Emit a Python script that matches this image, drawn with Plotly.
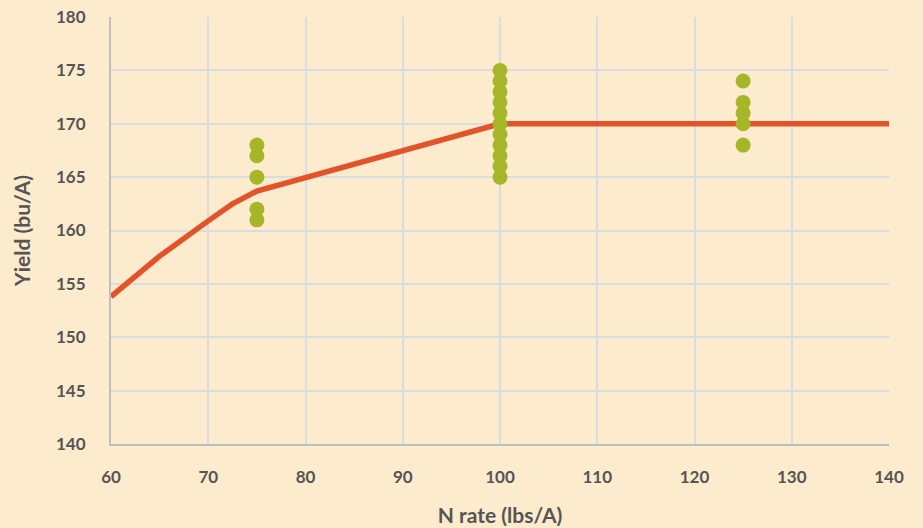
import plotly.graph_objects as go

# Observed yields by N rate
n_rate_75 = [75, 75, 75, 75, 75]
yield_75 = [168, 167, 165, 162, 161]
n_rate_100 = [100] * 11
yield_100 = [175, 174, 173, 172, 171, 170, 169, 168, 167, 166, 165]
n_rate_125 = [125, 125, 125, 125, 125]
yield_125 = [174, 172, 171, 170, 168]

# Fitted response curve
fit_n = [60, 65, 70, 72.5, 75, 100, 140]
fit_yield = [153.8, 157.6, 160.9, 162.5, 163.7, 170, 170]

x_ticks = [60, 70, 80, 90, 100, 110, 120, 130, 140]
y_ticks = [140, 145, 150, 155, 160, 165, 170, 175, 180]

bg = "#FDEBCD"
text_color = "#555555"
dot_color = "#A5B728"
line_color = "#E2532A"

fig = go.Figure()
fig.add_trace(go.Scatter(
    x=fit_n, y=fit_yield, mode="lines",
    line=dict(color=line_color, width=5.5),
    showlegend=False, cliponaxis=False,
))
obs_x = n_rate_75 + n_rate_100 + n_rate_125
obs_y = yield_75 + yield_100 + yield_125
fig.add_trace(go.Scatter(
    x=obs_x, y=obs_y, mode="markers",
    marker=dict(color=dot_color, size=15, line=dict(width=0)), showlegend=False,
))

font_family = "Lato, 'Open Sans', sans-serif"
fig.update_layout(
    width=923, height=528,
    paper_bgcolor=bg, plot_bgcolor=bg,
    margin=dict(l=111, r=34, t=17, b=84),
    font=dict(family=font_family, color=text_color, size=15),
)
fig.update_xaxes(
    range=[60, 140], tickvals=x_ticks, ticktext=[str(v) for v in x_ticks],
    automargin=False,
    showgrid=True, gridcolor="#D9DCE0", gridwidth=1.5,
    showline=True, linecolor="#BFBFBF", linewidth=2,
    zeroline=False, ticks="outside", ticklen=17, tickcolor="rgba(0,0,0,0)",
    tickfont=dict(size=17, family=font_family, color=text_color, weight="bold"),
    title=dict(text="N rate (lbs/A)", standoff=22,
               font=dict(size=21, family=font_family, color=text_color, weight="bold")),
)
fig.update_yaxes(
    range=[140, 180], tickvals=y_ticks, ticktext=[str(v) for v in y_ticks],
    automargin=False,
    showgrid=True, gridcolor="#D9DCE0", gridwidth=1.5,
    showline=True, linecolor="#BFBFBF", linewidth=2,
    zeroline=False, ticks="outside", ticklen=20, tickcolor="rgba(0,0,0,0)",
    tickfont=dict(size=17, family=font_family, color=text_color, weight="bold"),
    title=dict(text="Yield (bu/A)", standoff=20,
               font=dict(size=21, family=font_family, color=text_color, weight="bold")),
)

fig.write_html("out.html")
